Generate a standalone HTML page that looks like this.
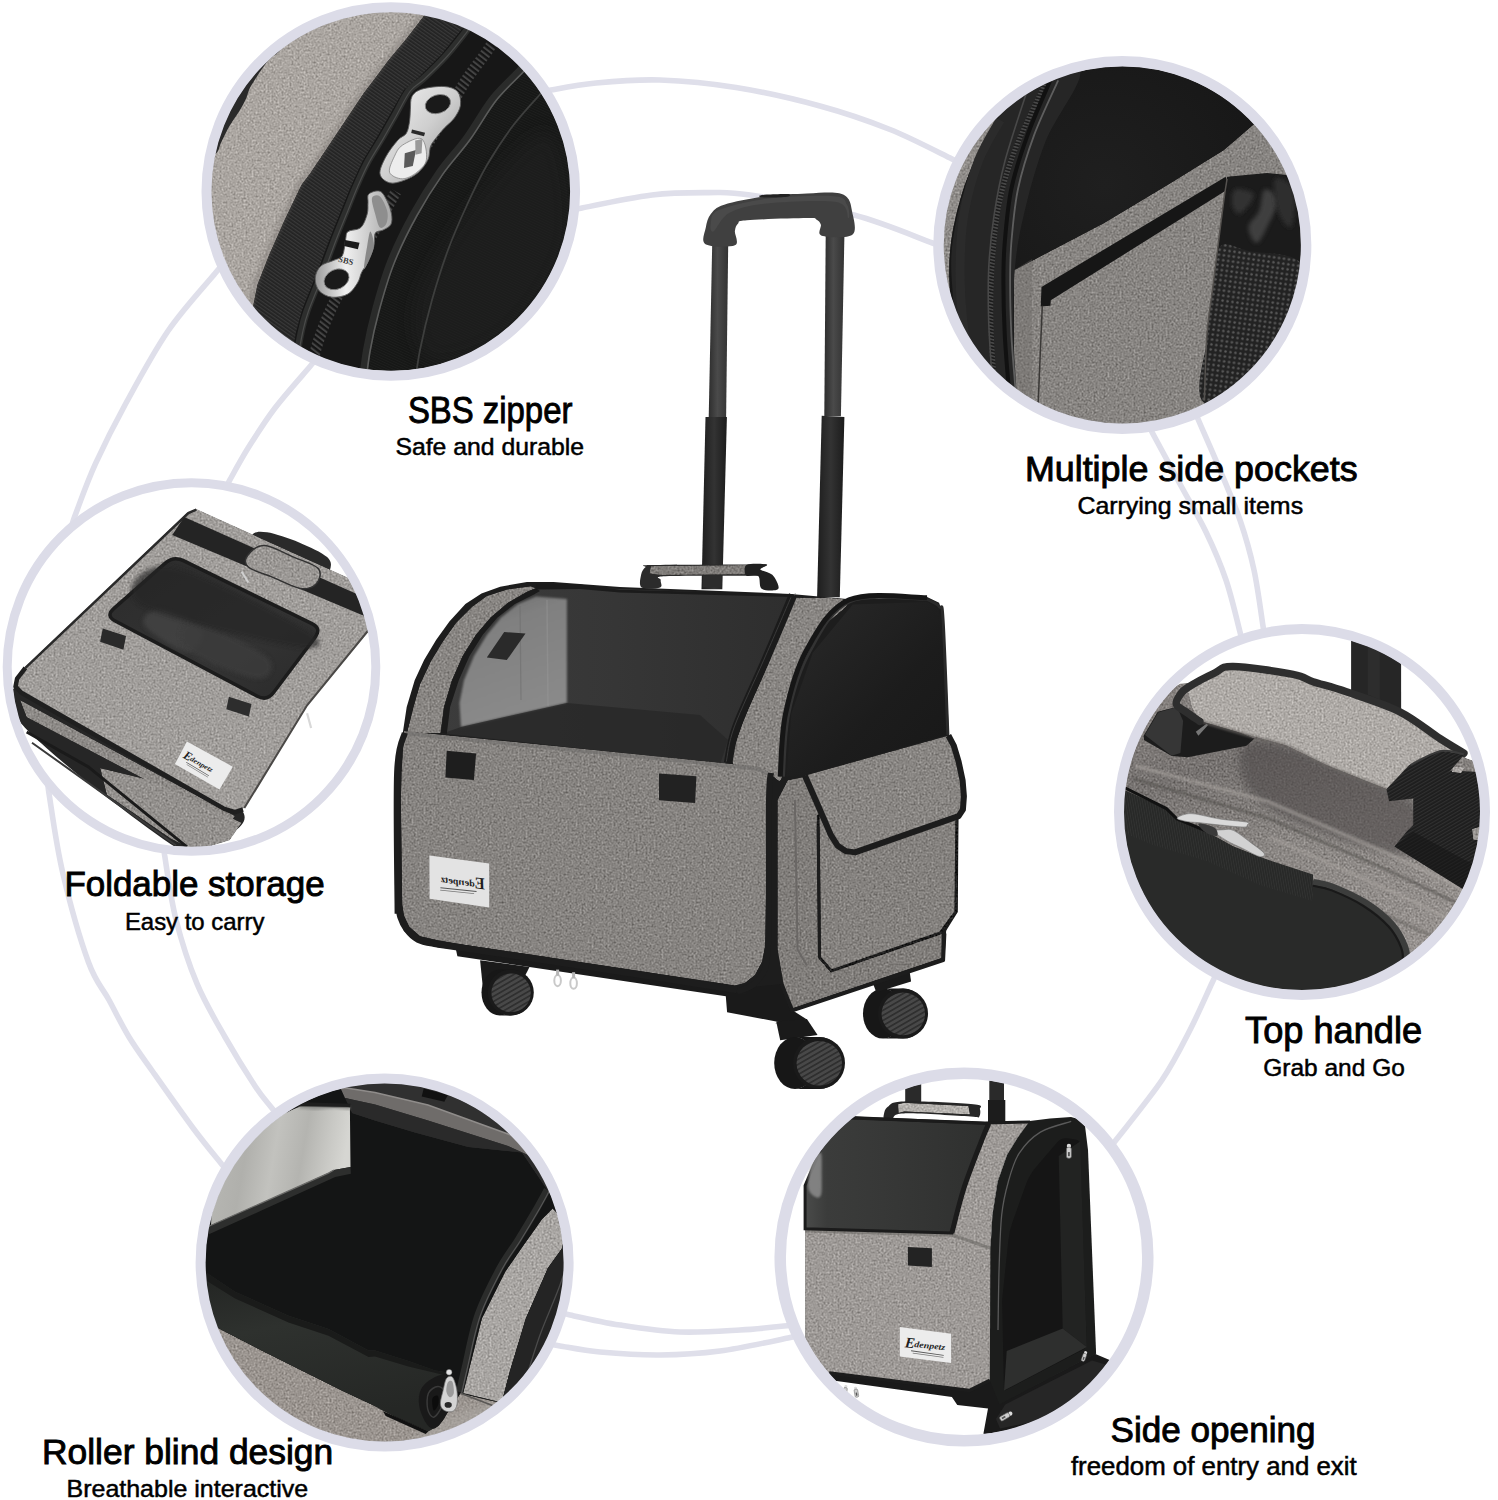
<!DOCTYPE html>
<html><head><meta charset="utf-8"><title>Pet carrier features</title>
<style>html,body{margin:0;padding:0;background:#fff}body{width:1498px;height:1500px;overflow:hidden;font-family:"Liberation Sans",sans-serif}svg{display:block}</style>
</head><body>
<svg xmlns="http://www.w3.org/2000/svg" width="1498" height="1500" viewBox="0 0 1498 1500">
<defs>
<filter id="fab" x="-5%" y="-5%" width="110%" height="110%" color-interpolation-filters="sRGB">
  <feTurbulence type="fractalNoise" baseFrequency="0.5" numOctaves="2" seed="7" result="n"/>
  <feColorMatrix in="n" type="matrix" values="0.6 0.6 0 0 -0.1  0.6 0.6 0 0 -0.1  0.6 0.6 0 0 -0.1  0 0 0 0 1" result="g"/>
  <feComposite in="SourceGraphic" in2="g" operator="arithmetic" k1="0" k2="1" k3="0.45" k4="-0.225" result="c"/>
  <feComposite in="c" in2="SourceGraphic" operator="in"/>
</filter>
<filter id="fabz" x="-5%" y="-5%" width="110%" height="110%" color-interpolation-filters="sRGB">
  <feTurbulence type="fractalNoise" baseFrequency="0.3" numOctaves="2" seed="11" result="n"/>
  <feColorMatrix in="n" type="matrix" values="0.6 0.6 0 0 -0.1  0.6 0.6 0 0 -0.1  0.6 0.6 0 0 -0.1  0 0 0 0 1" result="g"/>
  <feComposite in="SourceGraphic" in2="g" operator="arithmetic" k1="0" k2="1" k3="0.4" k4="-0.2" result="c"/>
  <feComposite in="c" in2="SourceGraphic" operator="in"/>
</filter>
<filter id="blur1"><feGaussianBlur stdDeviation="1"/></filter>
<filter id="blur2"><feGaussianBlur stdDeviation="2"/></filter>
<filter id="blur4"><feGaussianBlur stdDeviation="4"/></filter>
<filter id="blur8"><feGaussianBlur stdDeviation="8"/></filter>
<clipPath id="clip_c1"><circle cx="390.8" cy="191.5" r="179.8"/></clipPath>
<clipPath id="clip_c2"><circle cx="1122.3" cy="245" r="179"/></clipPath>
<clipPath id="clip_c3"><circle cx="191.5" cy="667" r="180.3"/></clipPath>
<clipPath id="clip_c4"><circle cx="384.6" cy="1262.5" r="179.5"/></clipPath>
<clipPath id="clip_c5"><circle cx="964" cy="1257" r="178.5"/></clipPath>
<clipPath id="clip_c6"><circle cx="1302" cy="812" r="178.5"/></clipPath>
<pattern id="wheelface" width="4.4" height="4.4" patternUnits="userSpaceOnUse" patternTransform="rotate(-30)">
  <rect width="4.4" height="4.4" fill="#484848"/><rect y="0" width="4.4" height="1.7" fill="#2e2e2e"/>
</pattern>
<linearGradient id="meshg" x1="0" y1="0" x2="1" y2="0">
  <stop offset="0" stop-color="#3c3c3c"/><stop offset="0.5" stop-color="#363636"/><stop offset="1" stop-color="#2e2e2e"/>
</linearGradient>
<linearGradient id="lightg" x1="0" y1="0" x2="0.3" y2="1">
  <stop offset="0" stop-color="#686868"/><stop offset="0.3" stop-color="#808080"/><stop offset="1" stop-color="#8a8a8a"/>
</linearGradient>
<linearGradient id="poleg" x1="0" y1="0" x2="1" y2="0">
  <stop offset="0" stop-color="#2e2e2e"/><stop offset="0.45" stop-color="#4a4a4a"/><stop offset="1" stop-color="#333"/>
</linearGradient>
<linearGradient id="poleg2" x1="0" y1="0" x2="1" y2="0">
  <stop offset="0" stop-color="#1e1e1e"/><stop offset="0.5" stop-color="#333"/><stop offset="1" stop-color="#1c1c1c"/>
</linearGradient>
<linearGradient id="sideblk" x1="0" y1="0" x2="1" y2="1">
  <stop offset="0" stop-color="#2a2a2a"/><stop offset="0.6" stop-color="#1c1c1c"/><stop offset="1" stop-color="#181818"/>
</linearGradient>

<linearGradient id="c1silver" x1="0" y1="0" x2="1" y2="1">
  <stop offset="0" stop-color="#f4f4f4"/><stop offset="0.5" stop-color="#cfcfcf"/><stop offset="1" stop-color="#8f8f8f"/>
</linearGradient>
<linearGradient id="c1silver2" x1="0" y1="0" x2="1" y2="0">
  <stop offset="0" stop-color="#9a9a9a"/><stop offset="0.4" stop-color="#f0f0f0"/><stop offset="1" stop-color="#a8a8a8"/>
</linearGradient>
<pattern id="c1rib" width="3" height="3" patternUnits="userSpaceOnUse" patternTransform="rotate(35)">
  <rect width="3" height="3" fill="#222"/><rect width="3" height="1.3" fill="#393939"/>
</pattern>
<pattern id="c1teeth" width="4.4" height="4.4" patternUnits="userSpaceOnUse" patternTransform="rotate(-52)">
  <rect width="4.4" height="4.4" fill="#141414"/><rect width="2" height="4.4" fill="#444"/>
</pattern>
<pattern id="c1mesh" width="2.4" height="2.4" patternUnits="userSpaceOnUse" patternTransform="rotate(25)">
  <rect width="2.4" height="2.4" fill="#161716"/><rect width="2.4" height="0.9" fill="#1e1f1e"/>
</pattern>

<pattern id="c2mesh" width="5" height="5" patternUnits="userSpaceOnUse" patternTransform="rotate(8)">
  <rect width="5" height="5" fill="#222"/><circle cx="2.5" cy="2.5" r="1.25" fill="#5c5c5c"/>
</pattern>
<pattern id="c2teeth" width="3.2" height="3.2" patternUnits="userSpaceOnUse" patternTransform="rotate(15)">
  <rect width="3.2" height="3.2" fill="#1c1c1c"/><rect width="3.2" height="1.5" fill="#4a4a4a"/>
</pattern>
<radialGradient id="c2int" cx="0.45" cy="0.35" r="0.6">
  <stop offset="0" stop-color="#1f1f1f"/><stop offset="1" stop-color="#141414"/>
</radialGradient>

<linearGradient id="c3win" x1="0" y1="0" x2="1" y2="1">
  <stop offset="0" stop-color="#2b2b2b"/><stop offset="0.6" stop-color="#343434"/><stop offset="1" stop-color="#2a2a2a"/>
</linearGradient>

<linearGradient id="c4light" x1="0" y1="0" x2="1" y2="0.15">
  <stop offset="0" stop-color="#b9b9b5"/><stop offset="0.3" stop-color="#b0b0ac"/><stop offset="0.5" stop-color="#c2c2be"/><stop offset="0.7" stop-color="#b4b4b0"/><stop offset="0.88" stop-color="#c9c9c5"/><stop offset="1" stop-color="#d6d6d2"/>
</linearGradient>
<linearGradient id="c4roll" x1="0" y1="0" x2="0.3" y2="1">
  <stop offset="0" stop-color="#222422"/><stop offset="0.4" stop-color="#2e312e"/><stop offset="1" stop-color="#252725"/>
</linearGradient>

<linearGradient id="c5mesh" x1="0" y1="0" x2="1" y2="0">
  <stop offset="0" stop-color="#4a4b4a"/><stop offset="0.12" stop-color="#3b3c3b"/><stop offset="0.5" stop-color="#363736"/><stop offset="1" stop-color="#2f302f"/>
</linearGradient>

<pattern id="c6web" width="3" height="3" patternUnits="userSpaceOnUse" patternTransform="rotate(-30)">
  <rect width="3" height="3" fill="#1d1d1d"/><rect width="3" height="1.2" fill="#303030"/>
</pattern>
<pattern id="c6nyl" width="2.4" height="2.4" patternUnits="userSpaceOnUse" patternTransform="rotate(80)">
  <rect width="2.4" height="2.4" fill="#272827"/><rect width="2.4" height="0.9" fill="#323332"/>
</pattern>
<linearGradient id="c6top" x1="0" y1="0" x2="0.35" y2="1">
  <stop offset="0" stop-color="#8d8885"/><stop offset="0.3" stop-color="#767270"/><stop offset="0.55" stop-color="#8a8683"/><stop offset="1" stop-color="#9a9592"/>
</linearGradient>
</defs>
<rect width="1498" height="1500" fill="#fff"/>
<g id="arcs"><path d="M540 93 C541.8 92.5 541.7 91.7 551 90 C560.3 88.3 577.8 84.7 596 83 C614.2 81.3 636.7 79.2 660 80 C683.3 80.8 709.3 83.2 736 87.5 C762.7 91.8 794.3 99 820 106 C845.7 113 868 120.7 890 129.5 C912 138.3 939.5 152.9 952 159 C964.5 165.1 962.8 164.8 965 166" fill="none" stroke="#dfdfea" stroke-width="5.6" stroke-linecap="round"/>
<path d="M570 212 C572 211.3 568.3 210.8 582 208 C595.7 205.2 631 197.6 652 195 C673 192.4 691.7 192.6 708 192.6 C724.3 192.6 725.7 191.3 750 195 C774.3 198.7 823.6 207 854 215 C884.4 223 917.3 237.5 932.5 243 C947.7 248.5 942.9 247.2 945 248" fill="none" stroke="#dfdfea" stroke-width="5.6" stroke-linecap="round"/>
<path d="M222 265 C220.8 266.4 224 262.5 215 273.5 C206 284.5 182.9 309.2 168 331 C153.1 352.8 137.6 381.9 125.5 404 C113.4 426.1 103.8 445.5 95.5 463.7 C87.2 481.9 79.9 502.8 76 513 C72.1 523.2 72.7 523 72 525" fill="none" stroke="#dfdfea" stroke-width="5.6" stroke-linecap="round"/>
<path d="M317 358 C315.8 359.4 317 358.2 310 366.5 C303 374.8 285.2 394.6 275 408 C264.8 421.4 256.5 434.7 249 446.6 C241.5 458.6 233.8 472.8 230 479.7 C226.2 486.6 226.7 486.6 226 488" fill="none" stroke="#dfdfea" stroke-width="5.6" stroke-linecap="round"/>
<path d="M48 780 C48.2 782.2 46.5 778.1 49 793.5 C51.5 808.9 56.1 844.5 62.7 872.6 C69.3 900.7 80.7 940.8 88.4 962 C96.1 983.2 102.2 987.5 109 1000 C115.8 1012.5 121.7 1025 129 1037 C136.3 1049 142.3 1056.8 153 1072 C163.7 1087.2 181.6 1112.7 193 1128 C204.4 1143.3 215.3 1156.3 221.5 1164 C227.7 1171.7 228.6 1172.3 230 1174" fill="none" stroke="#dfdfea" stroke-width="5.6" stroke-linecap="round"/>
<path d="M164 845 C164.2 847.1 163 845.2 165 857.6 C167 870 170.7 898.6 176 919.6 C181.3 940.6 188.8 964.1 197 983.7 C205.2 1003.3 215.3 1020 225 1037 C234.7 1054 247.3 1074.3 255 1086 C262.7 1097.7 266.8 1101.7 271 1107 C275.2 1112.3 278.5 1116.2 280 1118" fill="none" stroke="#dfdfea" stroke-width="5.6" stroke-linecap="round"/>
<path d="M560 1312 C561.7 1312.5 560 1312.8 570 1315 C580 1317.2 601.7 1322.2 620 1325 C638.3 1327.8 660 1331.2 680 1332 C700 1332.8 722.7 1331 740 1330 C757.3 1329 774.8 1327 784 1326 C793.2 1325 793.2 1324.3 795 1324" fill="none" stroke="#dfdfea" stroke-width="5.6" stroke-linecap="round"/>
<path d="M550 1344 C551.7 1344.3 551.7 1344.7 560 1346 C568.3 1347.3 583.3 1350.5 600 1352 C616.7 1353.5 640 1355.2 660 1355 C680 1354.8 698.7 1353.8 720 1351 C741.3 1348.2 774.7 1340.7 788 1338 C801.3 1335.3 798 1335.5 800 1335" fill="none" stroke="#dfdfea" stroke-width="5.6" stroke-linecap="round"/>
<path d="M1218 970 C1217 972.2 1216.7 973 1212 983 C1207.3 993 1198.3 1013.8 1190 1030 C1181.7 1046.2 1174.3 1061.7 1162 1080 C1149.7 1098.3 1125 1128.3 1116 1140 C1107 1151.7 1109.3 1148.3 1108 1150" fill="none" stroke="#dfdfea" stroke-width="5.6" stroke-linecap="round"/>
<path d="M1148 424 C1148.8 425.7 1147.7 424 1153 434 C1158.3 444 1171.2 467.7 1180 484 C1188.8 500.3 1198.3 516 1206 532 C1213.7 548 1220.3 563.3 1226 580 C1231.7 596.7 1237.3 621.7 1240 632 C1242.7 642.3 1241.7 640.3 1242 642" fill="none" stroke="#dfdfea" stroke-width="5.6" stroke-linecap="round"/>
<path d="M1194 409 C1194.7 410.7 1193.7 408.8 1198 419 C1202.3 429.2 1213 453.2 1220 470 C1227 486.8 1234.3 503.3 1240 520 C1245.7 536.7 1250.2 552.3 1254 570 C1257.8 587.7 1261.3 615 1263 626 C1264.7 637 1263.8 634.3 1264 636" fill="none" stroke="#dfdfea" stroke-width="5.6" stroke-linecap="round"/></g>
<g id="product"><path d="M712.2 244.2 L728.2 244.2 L726.1 418.3 L708.7 418.3Z" fill="url(#poleg)"/>
<path d="M825.7 235.4 L844.4 235.4 L840.9 416.2 L824.3 416.2Z" fill="url(#poleg)"/>
<path d="M705.5 417 L726.9 417 L722.3 589.2 L701.5 589.2Z" fill="url(#poleg2)"/>
<path d="M821.7 415.7 L844.4 417 L839.8 597.2 L817.1 597.2Z" fill="url(#poleg2)"/>
<path d="M705.5 244.2 C700.6 241.3 704.9 232.4 705.8 227.4 C706.7 222.4 707.8 217.8 710.8 214.1 C713.9 210.3 714.8 207.7 724.2 204.7 C733.5 201.7 753.1 198 766.9 196.2 C780.7 194.3 795.6 194.1 807 193.5 C818.3 192.9 828.3 192.1 835 192.7 C841.7 193.3 844.2 194.3 847 197.2 C849.8 200.1 850.9 203.8 851.8 210.1 C852.8 216.3 857.7 230.3 852.6 234.6 C847.6 238.9 827 237.3 821.7 235.7 C816.4 234 821.7 227.5 820.9 224.7 C820 222 818.6 220.5 816.3 219.4 C814 218.3 818.5 217.9 807 218.1 C795.4 218.2 758.4 219.3 746.9 220.2 C735.4 221.1 740.1 221.6 738.1 223.4 C736.1 225.2 735.4 227.2 734.9 230.9 C734.3 234.5 739.8 243.1 734.9 245.3 C730 247.5 710.4 247.2 705.5 244.2Z" fill="#404040"/>
<path d="M718.9 210.1 C728.2 206 747.8 201.2 766.9 198.8 C786.1 196.5 820.3 195.2 833.7 196.2 C847 197.1 844.6 201.1 847 204.7 C849.5 208.4 850.1 218.5 848.4 218.1 C846.6 217.6 849.9 204.5 836.3 202 C822.8 199.6 784.7 201.6 766.9 203.4 C749.1 205.2 738.4 208.1 729.5 212.7 C720.6 217.4 716.6 229.6 713.5 231.4 C710.4 233.2 710 227 710.8 223.4 C711.7 219.8 709.5 214.1 718.9 210.1Z" fill="#4a4a4a"/>
<path d="M758.9 196.2 C758.9 195.7 762 194.9 766.9 194.6 C771.8 194.2 784.9 193.7 788.3 194 C791.6 194.4 790.5 196.1 786.9 196.7 C783.4 197.3 771.6 197.6 766.9 197.5 C762.2 197.4 758.9 196.7 758.9 196.2Z" fill="#222"/>
<path d="M883 988.6 a18.8 25 0 0 1 0 50 l20 0 a23.5 25 0 0 0 0 -50 z" fill="#161616"/>
<ellipse cx="883" cy="1013.6" rx="20" ry="25" fill="#171717"/>
<ellipse cx="903" cy="1013.6" rx="25" ry="25" fill="#1a1a1a"/>
<ellipse cx="903.3" cy="1013.9" rx="21.7" ry="21.3" fill="url(#wheelface)"/>
<path d="M868.3 970.9 L908.4 962.9 L911.1 981.6 L876.3 992.3Z" fill="#1a1a1a"/>
<path d="M454.8 944.2 L457.4 956.2 L529.5 966.9 L725.8 996.3 L727.1 1012.3 L780 1022.2 L774.9 1023.8 L806.9 1019.5 L793.6 1010.9 L944.4 961 L946.3 928.2 L935.1 925.5 L780.2 981.6 L734.8 986.9Z" fill="#1a1a1a"/>
<path d="M396.8 905 L395.8 772.3 L399.5 745 L402.7 733.6 L406.7 706.9 L414.7 680.2 L424.1 660.1 L436.1 640.1 L449.4 621.4 L465.4 604.1 L481.5 593.4 L500.2 586.7 L526.9 582 L553.6 582 L580 584 L620 587 L790.9 593.9 L849.6 599.3 L927.1 596.9 L939.1 602.8 L943.6 617.4 L949 734.9 L957.5 753.6 L964.5 793.7 L960.5 815.6 L958.6 800 L957.8 912.1 L944.4 933.5 L944.4 960.2 L790.9 1012.3 L780.2 984.2 L753.5 986.9 L734.8 993.6 L748.5 993.6 L456 949.5 L436 947 L417 942 L404 931 L398.5 918Z" fill="#1d1d1d"/>
<g filter="url(#fab)"><path d="M407 733 L413.4 706.9 L420 684.2 L430.7 661.5 L442.8 641.4 L456.1 622.8 L472.1 606.7 L486.8 596 L506.8 589.4 L530.9 586.2 L536 588.2 L526.9 592 L508.2 602.7 L490.8 617.4 L476.1 634.8 L462.8 656.1 L452.1 680.2 L444.1 706.9 L440.7 733Z" fill="#888582"/>
<path d="M798.4 597.7 C807.3 598.3 843.4 596.3 847.5 601.4 C851.6 606.5 830.1 617.9 822.9 628.1 C815.7 638.4 809.8 648.6 804.2 662.8 C798.7 677.1 793.2 694.7 789.6 713.6 C785.9 732.5 785.7 766.1 782.3 776.3 C779 786.6 777.7 776.9 769.5 775 C761.4 773.1 738.3 772.6 733.5 764.8 C728.7 757 734.7 745.7 740.7 728.3 C746.7 710.8 760.6 681.9 769.5 660.2 C778.4 638.4 789.3 608.1 794.1 597.7 C798.9 587.3 789.5 597.1 798.4 597.7Z" fill="#888582"/>
<path d="M787.7 780.3 L806.9 776.3 L947.9 737.6 L956.4 753.6 L956.4 800 L955.9 910.8 L941.8 932.2 L941.8 958.1 L792.2 1008.8 L783.4 984.2 L777.5 949.5 L777.5 800Z" fill="#807d7a"/></g>
<path d="M440.7 733 L720.4 763.5 L727.3 762.2 L735.4 726.9 L764.7 660.2 L791.4 595.5 L580 587.5 L540 588 L536 588.2 L526.9 592 L508.2 602.7 L490.8 617.4 L476.1 634.8 L462.8 656.1 L452.1 680.2 L444.1 706.9Z" fill="url(#meshg)"/>
<path d="M461 727 L459.5 703 L464 680.2 L474 656.1 L487 634.8 L501 617.4 L518 604.1 L536 596.5 L566.9 599 L566.9 702.9Z" fill="url(#lightg)" filter="url(#blur1)"/>
<path d="M520 606 L521 700" fill="none" stroke="#6a6a6a" stroke-width="1.2" opacity="0.5"/>
<path d="M547 600 L548 706" fill="none" stroke="#9a9a9a" stroke-width="1.5" opacity="0.4"/>
<path d="M461 727 L566.9 702.9 L700 715 L728 740 L720.4 763.5 L441 734Z" fill="#272727" opacity="0.75"/>
<path d="M504.2 632.1 L525.5 633.4 L506.8 660.1 L486.8 657.5Z" fill="#2a2a2a"/>
<path d="M440.7 733 L444.1 706.9 L452.1 680.2 L462.8 656.1 L476.1 634.8 L490.8 617.4 L508.2 602.7 L526.9 592 L536 588.2 L540 591 L533.5 594.7 L514.8 604.1 L497.5 617.4 L482.8 634.8 L469.5 656.1 L458.8 680.2 L450.1 706.9 L446.8 734Z" fill="#1b1b1b"/>
<path d="M793 595 C788.4 605.9 775 638.2 765.5 660.2 C756.1 682.1 742.7 709.8 736.4 726.9 C730.2 744 729.5 757 728.1 763" fill="none" stroke="#1b1b1b" stroke-width="8.5"/>
<path d="M790.9 597.4 C786.4 607.9 773.1 638.6 763.7 660.2 C754.2 681.7 740.5 710 734.3 726.9 C728.1 743.8 727.6 755.8 726.3 761.6" fill="none" stroke="#3a3a3a" stroke-width="1"/>
<path d="M536 584.5 L580 584.5 L620 589.7 L793.6 594.2 L793.6 597.1 L620 592.6 L580 589 L536 589.5Z" fill="#1b1b1b"/>
<path d="M852.8 604.6 L927.1 601.9 L938.3 608.9 L941.5 620.1 L946.3 734.9 L804.8 775 L786.6 776.6 L791.4 713.6 L812.8 652.7Z" fill="url(#sideblk)"/>
<path d="M927.1 599.3 C914.2 599.7 869.2 593.1 849.6 601.9 C830.1 610.8 819.7 633.5 809.6 652.1 C799.4 670.8 793.1 692.8 788.8 713.6 C784.4 734.3 784.3 766.1 783.4 776.6" fill="none" stroke="#333" stroke-width="3"/>
<path d="M927.1 597.7 C914.1 598 869.1 591.2 849.1 599.8 C829.1 608.4 817.5 630.5 806.9 649.5 C796.3 668.4 790 692.4 785.6 713.6 C781.1 734.7 781.1 766.1 780.2 776.6" fill="none" stroke="#161616" stroke-width="5"/>
<path d="M927.1 599.3 C929.1 600.5 936.7 603.3 939.4 606.8 C942 610.2 941.7 598.7 943.1 620.1 C944.5 641.5 947.1 715.8 947.9 734.9" fill="none" stroke="#2a2a2a" stroke-width="3"/>
<g filter="url(#fab)"><path d="M404 731 L442 734.7 L720.4 762.8 L758 766.8 L769 772 L767 800 L765.5 945 L762 962 L755 975 L745 983 L735 985.5 L456 943.5 L437.4 940.2 L420 936.2 L409.3 926.8 L404 916.1 L402.2 905 L400.8 800 L401.5 772Z" fill="#868380"/></g>
<path d="M404 731.5 L442 735.2 L720.4 763.3 L758 767.3 L769 772.5 L769 776 L758 770.8 L720.4 766.8 L442 738.7 L404 735Z" fill="#6e6b69" opacity="0.55"/>
<path d="M771 773 C770.7 777.5 769.5 771.3 769 800 C768.5 828.7 769.8 915 768 945 C766.2 975 763.2 972.2 758 980 C752.8 987.8 740.5 990 737 992" fill="none" stroke="#1d1d1d" stroke-width="6"/>
<path d="M737 990 C714.2 986.4 646.8 975.7 600 968.5 C553.2 961.3 483.3 951.1 456 947 C428.7 942.9 442.3 945.2 436 944 C429.7 942.8 422.9 942 418 939.5 C413.1 937 409.4 932.8 406.5 929 C403.6 925.2 401.8 921 400.5 917 C399.2 913 399.1 907 398.8 905" fill="none" stroke="#1d1d1d" stroke-width="6.5" stroke-linejoin="round"/>
<path d="M397.6 913.8 C397.5 890.2 395.9 802.5 397.1 772.3 C398.3 742.1 403.5 739.4 404.8 732.8" fill="none" stroke="#1d1d1d" stroke-width="6"/>
<path d="M446.7 750.7 L476.1 753.4 L473.9 780.1 L445.4 777.4Z" fill="#1e1e1e"/>
<path d="M659 773.6 L696.4 776.3 L695.1 803 L659 800.3Z" fill="#222"/>
<path d="M429.4 855.4 L489.2 863.4 L489.2 907.4 L429.6 898.8Z" fill="#e3e3e3"/>
<g transform="translate(484.5 889.5) rotate(8) scale(-1.1 1.1)" font-family="'Liberation Serif', serif" font-style="italic" font-weight="bold" fill="#1e1e1e"><text x="0" y="0" font-size="15">E</text><text x="9.5" y="-1.2" font-size="8.6" textLength="31" lengthAdjust="spacingAndGlyphs">denpetz</text><rect x="7" y="2.2" width="33" height="0.9" fill="#555" transform="rotate(2)"/><rect x="9" y="4.4" width="31" height="0.7" fill="#777" transform="rotate(2)"/></g>
<g filter="url(#fab)"><path d="M818.1 816 L819.5 957.5 L831.5 970.9 L940.4 933 L955.9 911.6 L957 800Z" fill="#84817e" stroke="#1c1c1c" stroke-width="3" stroke-linejoin="round"/>
<path d="M804.8 775.5 L948.4 735.5 L953.8 745.6 L958.6 761.6 L962.6 780.3 L963.9 796.3 L962.9 809.7 L958.6 816.1 L855 852.4 L845.6 851.1 L837.6 845.7 L830.9 835.1 L818.7 807Z" fill="#888582"/></g>
<path d="M948.4 735.5 L953.8 745.6 L958.6 761.6 L962.6 780.3 L963.9 796.3 L962.9 809.7 L958.6 816.1 L855 852.4 L845.6 851.1 L837.6 845.7 L830.9 835.1 L818.7 807 L804.8 775.5" fill="none" stroke="#1c1c1c" stroke-width="6" stroke-linejoin="round"/>
<path d="M818.1 826.7 L819.5 957.5" fill="none" stroke="#1c1c1c" stroke-width="3"/>
<path d="M794.9 800 L797.6 949.5 L806.9 965.6" fill="none" stroke="#6a6765" stroke-width="2"/>
<path d="M781.5 984.2 L792.2 1010.4 L943.1 960.2 L944.4 933.5" fill="none" stroke="#1c1c1c" stroke-width="4" stroke-linejoin="round"/>
<path d="M641.7 587.4 C638.5 585.3 640.5 578 641.1 574.7 C641.8 571.3 643.6 568.9 645.4 567.3 C647.2 565.7 635.2 565.5 652.1 565.1 C669 564.6 727.8 564.6 746.9 564.5 C766 564.5 764.8 564 766.9 564.8 C769 565.6 760.7 567.7 759.6 569.3 C758.5 571 762.1 573.6 760.2 574.7 C758.3 575.8 764 575.5 748.2 575.8 C732.4 576 680 575.6 665.4 576.3 C650.9 577 661.7 578.2 660.8 580 C659.9 581.9 663.3 586.1 660.1 587.4 C656.9 588.6 644.8 589.5 641.7 587.4Z" fill="#2b2b2b"/>
<g filter="url(#fab)"><path d="M650.8 565.9 L747.6 565.1 L745.6 574.4 L660.1 575 L649.4 573.4Z" fill="#7f7c79"/></g>
<path d="M746.9 564.8 C750.3 563 764.7 563.8 766.9 564.5 C769.1 565.3 759.4 567.7 760.2 569.3 C761.1 571 769.3 572 772.3 574.7 C775.3 577.4 777.6 582.8 778.3 585.4 C778.9 587.9 779 589.5 776.3 590 C773.5 590.6 764.6 591 761.6 588.7 C758.6 586.4 760.8 578.2 758.2 576 C755.7 573.8 748.1 577.2 746.2 575.4 C744.3 573.5 743.4 566.6 746.9 564.8Z" fill="#202020"/>
<path d="M702.8 575.8 L721.8 575.8 L721.5 587.4 L702.6 587.4Z" fill="#2c2c2c"/>
<path d="M480.1 960.2 L529.5 966.9 L524.2 977.6 L482.8 986.9Z" fill="#1a1a1a"/>
<path d="M499.8 969.5 a17.2 23 0 0 1 0 46 l11 0 a21.5 23 0 0 0 0 -46 z" fill="#161616"/>
<ellipse cx="499.8" cy="992.5" rx="18.3" ry="23" fill="#171717"/>
<ellipse cx="510.8" cy="992.5" rx="23" ry="23" fill="#1a1a1a"/>
<ellipse cx="511.1" cy="992.8" rx="19.7" ry="19.3" fill="url(#wheelface)"/>
<path d="M776.2 1021.6 L806.9 1019 L817.6 1035 L780.2 1040.3Z" fill="#1a1a1a"/>
<path d="M795 1037 a19.6 26 0 0 1 0 52 l24 0 a24.5 26 0 0 0 0 -52 z" fill="#161616"/>
<ellipse cx="795" cy="1063" rx="20.8" ry="26" fill="#171717"/>
<ellipse cx="819" cy="1063" rx="26" ry="26" fill="#1a1a1a"/>
<ellipse cx="819.3" cy="1063.3" rx="22.7" ry="22.3" fill="url(#wheelface)"/>
<ellipse cx="557.6" cy="980.6" rx="3.3" ry="5.6" fill="none" stroke="#c9c9c9" stroke-width="2"/>
<rect x="556.1" y="969.6" width="3" height="6" fill="#b5b5b5"/>
<ellipse cx="573.6" cy="983.2" rx="3.3" ry="5.6" fill="none" stroke="#c9c9c9" stroke-width="2"/>
<rect x="572.1" y="972.2" width="3" height="6" fill="#b5b5b5"/></g>
<g id="backs"><circle cx="390.8" cy="191.5" r="188.3" fill="#fff"/>
<circle cx="1122.3" cy="245" r="188" fill="#fff"/>
<circle cx="191.5" cy="667" r="187.8" fill="#fff"/>
<circle cx="384.6" cy="1262.5" r="188" fill="#fff"/>
<circle cx="964" cy="1257" r="188.5" fill="#fff"/>
<circle cx="1302" cy="812" r="187" fill="#fff"/></g>
<g id="c1" clip-path="url(#clip_c1)"><rect x="195" y="-5" width="400" height="400" fill="url(#c1mesh)"/>
<path d="M483.7 186.9 C506 160.2 536.2 124.6 550.5 133.5 C564.7 142.4 575.8 206.9 569.2 240.3 C562.5 273.7 533.6 313.8 510.4 333.8 C487.3 353.8 445.9 367.2 430.3 360.5 C414.7 353.8 408.1 322.7 417 293.7 C425.9 264.8 461.5 213.6 483.7 186.9Z" fill="#222322" opacity="0.5" filter="url(#blur8)"/>
<path d="M482 3 L463 27.7 L441 55 L418 78 L403.8 90 L390.2 114 L376.5 138.1 L362.1 162.1 L350.9 186.2 L341.3 210 L330 238 L318 270 L302 310 L296 332 L290 365 L366 388 L371 350 L380 309.7 L395 262 L418 214 L444 172.4 L470.8 138.5 L497.5 98.5 L525.5 69.1 L539 50Z" fill="#171717"/>
<path d="M436 0 L424.1 15.7 L406.7 38.4 L388 61.1 L380 71.8 L363.6 93.5 L336.9 133.5 L310.2 173.6 L301.5 185 L285.4 218.4 L269.4 254.4 L257.4 285.1 L253.4 305.2 L250 335 L290 365 L296 332 L302 310 L318 270 L330 238 L341.3 210 L350.9 186.2 L362.1 162.1 L376.5 138.1 L390.2 114 L403.8 90 L418 78 L441 55 L463 27.7 L482 3Z" fill="url(#c1rib)"/>
<path d="M487 4 C483.8 8.1 474.8 20 468 28.7 C461.2 37.4 453.5 47.6 446 56 C438.5 64.4 429.2 73.2 423 79 C416.8 84.8 413.4 85 408.8 91 C404.2 97 399.8 107 395.2 115 C390.6 123 386.2 131.1 381.5 139.1 C376.8 147.1 371.4 155.1 367.1 163.1 C362.8 171.1 359.4 179.2 355.9 187.2 C352.4 195.2 349.8 202.4 346.3 211 C342.8 219.6 338.9 229 335 239 C331.1 249 327.7 259 323 271 C318.3 283 310.7 300.7 307 311 C303.3 321.3 303 323.8 301 333 C299 342.2 296 360.5 295 366" fill="none" stroke="#2d2e2d" stroke-width="7"/>
<path d="M488.5 4 C485.3 8.1 476.3 20 469.5 28.7 C462.7 37.4 455 47.6 447.5 56 C440 64.4 430.7 73.2 424.5 79 C418.3 84.8 414.9 85 410.3 91 C405.7 97 401.2 107 396.7 115 C392.1 123 387.7 131.1 383 139.1 C378.3 147.1 372.9 155.1 368.6 163.1 C364.3 171.1 360.9 179.2 357.4 187.2 C353.9 195.2 351.3 202.4 347.8 211 C344.3 219.6 340.4 229 336.5 239 C332.6 249 329.2 259 324.5 271 C319.8 283 312.2 300.7 308.5 311 C304.8 321.3 304.5 323.8 302.5 333 C300.5 342.2 297.5 360.5 296.5 366" fill="none" stroke="#4a4b4a" stroke-width="1.2"/>
<path d="M508 18 C504.7 23.3 494.9 39.7 488 50 C481.1 60.3 473.7 68.3 466.4 79.6 C459.1 90.9 451.5 105.7 444 118 C436.5 130.3 425.3 147.3 421.6 153.2" fill="none" stroke="url(#c1teeth)" stroke-width="11"/>
<path d="M396 191.6 C391.7 199.3 378.4 223.6 370.4 238 C362.4 252.4 354.4 266.5 348 278 C341.6 289.5 337 296.1 332 306.8 C327 317.5 321.7 330.6 318 342 C314.3 353.4 311.3 369.5 310 375" fill="none" stroke="url(#c1teeth)" stroke-width="11"/>
<path d="M535 50 C532.8 53.2 528.4 61 521.5 69.1 C514.6 77.2 502.6 86.9 493.5 98.5 C484.4 110.1 475.7 126.2 466.8 138.5 C457.9 150.8 448.8 159.8 440 172.4 C431.2 185 422.2 199.1 414 214 C405.8 228.9 397.3 246.1 391 262 C384.7 277.9 380 295 376 309.7 C372 324.4 369.3 336.9 367 350 C364.7 363.1 362.8 381.7 362 388" fill="none" stroke="#2a2b2a" stroke-width="8"/>
<path d="M538 51.5 C535.8 54.7 531.4 62.5 524.5 70.6 C517.6 78.7 505.6 88.4 496.5 100 C487.4 111.6 478.7 127.7 469.8 140 C460.9 152.3 451.8 161.3 443 173.9 C434.2 186.5 425.2 200.6 417 215.5 C408.8 230.4 400.3 247.6 394 263.5 C387.7 279.4 383 296.5 379 311.2 C375 325.9 372.3 338.4 370 351.5 C367.7 364.6 365.8 383.2 365 389.5" fill="none" stroke="#5a5b5a" stroke-width="1.6"/>
<path d="M560 72 C557.3 75 551.8 81.2 544 90 C536.2 98.8 523 112.5 513.5 125 C504 137.5 494.8 151.7 487 165 C479.2 178.3 473.5 190.8 467 205 C460.5 219.2 453.8 234.2 448 250 C442.2 265.8 436.7 283.3 432 300 C427.3 316.7 423 335 420 350 C417 365 415 383.3 414 390" fill="none" stroke="#3d3e3d" stroke-width="1.8"/>
<g filter="url(#fab)"><path d="M436 0 L424.1 15.7 L406.7 38.4 L388 61.1 L380 71.8 L363.6 93.5 L336.9 133.5 L310.2 173.6 L301.5 185 L285.4 218.4 L269.4 254.4 L257.4 285.1 L253.4 305.2 L250 335 L180 335 L180 -10 L436 -10Z" fill="#aaa5a0"/></g>
<path d="M434 0 C432 2.6 427 9.3 422.1 15.7 C417.2 22.1 410.7 30.8 404.7 38.4 C398.7 46 390.4 55.5 386 61.1 C381.6 66.7 382.1 66.4 378 71.8 C373.9 77.2 368.8 83.2 361.6 93.5 C354.4 103.8 343.8 120.2 334.9 133.5 C326 146.8 314.1 165 308.2 173.6 C302.3 182.2 303.6 177.5 299.5 185 C295.4 192.5 288.8 206.8 283.4 218.4 C278 230 272.1 243.3 267.4 254.4 C262.7 265.5 258.1 276.6 255.4 285.1 C252.7 293.6 252.6 296.9 251.4 305.2 C250.2 313.5 248.6 330 248 335" fill="none" stroke="#6f6b67" stroke-width="4" opacity="0.45" filter="url(#blur2)"/>
<path d="M280 47.5 C284.5 50 271.8 55.6 267 62 C262.2 68.4 254.4 80 251 86 C247.6 92 248.1 94 246.3 98 C244.5 102 242.8 105.3 240 110 C237.2 114.7 232.6 120.7 229.5 126 C226.4 131.3 223.8 137.3 221.4 142 C219 146.7 219.2 152 215 154 C210.8 156 198.5 163 196 154 C193.5 145 192.7 117.8 200 100 C207.3 82.2 226.7 55.8 240 47 C253.3 38.2 275.5 45 280 47.5Z" fill="#2a2a2a"/>
<path d="M412 96.4 C413.9 93.1 416.3 90.9 421.6 89.2 C426.9 87.5 438 86.1 444 86.5 C450 86.9 454.9 88.5 457.6 91.6 C460.3 94.7 461 100.8 460.5 105.2 C459.9 109.6 457 114.3 454.4 118 C451.8 121.7 447.9 124.3 444.8 127.6 C441.7 130.9 438.4 134.8 436 138 C433.6 141.2 431.7 143.2 430.4 146.8 C429.1 150.4 430 155.3 428 159.6 C426 163.9 422.4 168.9 418.4 172.4 C414.4 175.9 408.8 178.7 404 180.4 C399.2 182.1 393.6 183.9 389.6 182.8 C385.6 181.7 380.7 178.3 380 174 C379.3 169.7 382.7 162.8 385.6 157.2 C388.5 151.6 394.1 144.4 397.6 140.4 C401.1 136.4 404.4 136.4 406.4 133.2 C408.4 130 408.9 125.2 409.6 121.2 C410.3 117.2 410 113.3 410.4 109.2 C410.8 105.1 410.1 99.7 412 96.4Z" fill="url(#c1silver)" stroke="#5a5a5a" stroke-width="0.9"/>
<ellipse cx="437.9" cy="104.1" rx="13" ry="9.2" transform="rotate(-18 437.9 104.1)" fill="#1a1a1a" stroke="#8a8a8a" stroke-width="0.8"/>
<path d="M412 129.5 L425.1 132.7 L424 136.2 L411.2 133Z" fill="#2a2a2a"/>
<path d="M402.4 145.2 C406.9 142.3 417.6 136.4 421.6 138.8 C425.6 141.2 427.2 154 426.4 159.6 C425.6 165.2 420.8 169.2 416.8 172.4 C412.8 175.6 406.9 178.8 402.4 178.8 C397.9 178.8 390.9 176.1 389.6 172.4 C388.3 168.7 392.3 160.9 394.4 156.4 C396.5 151.9 397.9 148.1 402.4 145.2Z" fill="#ededed" stroke="#7a7a7a" stroke-width="0.7"/>
<path d="M404.8 153.2 L416 150 L412.8 166 L404 167.9Z" fill="#5a5a5a"/>
<path d="M415.2 140.4 L422.4 139.1 L421.6 153.2 L415.5 154.8Z" fill="#9a9a9a"/>
<path d="M368.8 194 C370.8 192.1 376.9 190.1 380 191.3 C383.1 192.5 385.3 197.4 387.2 201.2 C389.1 205 390.9 210.1 391.5 214 C392.1 217.9 392.3 221.7 390.9 224.4 C389.5 227.1 385.8 228.5 383.2 230 C380.6 231.5 376.7 230.5 375.2 233.2 C373.7 235.9 375.1 241.2 373.9 246 C372.7 250.8 370.1 257.6 368 262 C365.9 266.4 363.3 268.9 361.6 272.4 C359.9 275.9 359.9 279.2 357.6 282.8 C355.3 286.4 352.3 291.6 348 294 C343.7 296.4 336.8 297.7 332 297.2 C327.2 296.7 322 294 319.2 290.8 C316.4 287.6 314.9 282.1 315.2 278 C315.5 273.9 317.7 268.9 320.8 266 C323.9 263.1 330 262.1 333.6 260.4 C337.2 258.7 340.4 259.1 342.4 255.6 C344.4 252.1 344.7 243.6 345.6 239.6 C346.5 235.6 345.5 233.6 348 231.6 C350.5 229.6 357.6 230.5 360.8 227.6 C364 224.7 366 218.1 367.2 214 C368.4 209.9 367.7 206.1 368 202.8 C368.3 199.5 366.8 195.9 368.8 194Z" fill="url(#c1silver2)" stroke="#5a5a5a" stroke-width="0.9"/>
<ellipse cx="336.5" cy="279.3" rx="13" ry="9.8" transform="rotate(-25 336.5 279.3)" fill="#1a1a1a" stroke="#8a8a8a" stroke-width="0.8"/>
<path d="M345.1 239.9 L359.5 242.8 L357.9 249.2 L344 246Z" fill="#1c1c1c"/>
<path d="M372 198 C372.8 195.1 377.5 194.3 380 196.4 C382.5 198.5 386.1 206.3 387.2 210.8 C388.3 215.3 387.6 220.8 386.4 223.6 C385.2 226.4 381.9 229.2 380 227.6 C378.1 226 376.5 218.9 375.2 214 C373.9 209.1 371.2 200.9 372 198Z" fill="#8e8e8e"/>
<path d="M370.4 231.6 C371.5 231.6 374.2 241.2 373.9 246 C373.7 250.8 370.5 256.7 368.8 260.4 C367.1 264.1 364.3 270.8 364 268.4 C363.7 266 366.1 252.1 367.2 246 C368.3 239.9 369.3 231.6 370.4 231.6Z" fill="#888"/>
<text x="337.8" y="261.5" font-family="'Liberation Serif', serif" font-weight="bold" font-size="8.5" fill="#3a3a3a" transform="rotate(14 337.8 261.5)">SBS</text></g>
<g id="c2" clip-path="url(#clip_c2)"><rect x="925" y="45" width="400" height="400" fill="url(#c2int)"/>
<g filter="url(#fab)"><path d="M1000.1 120.1 C1010.8 125.4 985.4 138.8 978.7 152.1 C972.1 165.5 964.9 183.3 960.1 200.2 C955.2 217.1 951.3 235.8 949.9 253.6 C948.5 271.4 949.8 293.7 951.5 307 C953.2 320.4 966.2 329.3 960.1 333.7 C953.9 338.2 922.2 369.3 914.7 333.7 C907.1 298.1 900.4 155.7 914.7 120.1 C928.9 84.5 989.4 114.8 1000.1 120.1Z" fill="#8f8c89"/>
<path d="M1014 270.2 L1104.1 222.9 L1173.6 181.2 L1223.9 150 L1253.5 124.4 L1300 90 L1325.9 200.2 L1325.9 445.9 L1014 445.9Z" fill="#878481"/></g>
<path d="M1014 270.2 L1032.1 259 L1032.1 445.9 L1014 445.9Z" fill="#6a6765" opacity="0.35"/>
<path d="M1032.1 72 C1044.6 66.3 1078 60.5 1080.2 72 C1082.4 83.6 1054.8 117.9 1045.5 141.5 C1036.2 165.1 1029.3 192.2 1024.1 213.6 C1019 234.9 1016.6 249.6 1014.8 269.6 C1013 289.7 1013.6 305.2 1013.5 333.7 C1013.3 362.2 1021.6 422.7 1014 440.5 C1006.4 458.3 977.9 451.7 968.1 440.5 C958.2 429.4 957.2 396 954.7 373.8 C952.3 351.5 953.9 327 953.4 307 C952.8 287 950.2 271.4 951.5 253.6 C952.8 235.8 956.6 217.1 961.4 200.2 C966.2 183.3 972.7 167.7 980.1 152.1 C987.4 136.6 996.8 120.1 1005.4 106.8 C1014.1 93.4 1019.7 77.8 1032.1 72Z" fill="#262626"/>
<path d="M1000.1 120.1 C996.5 126.8 984.8 144.6 978.7 160.2 C972.7 175.7 967.2 195.8 964.1 213.6 C960.9 231.4 960.3 249.2 960.1 267 C959.8 284.8 960.5 300.3 962.7 320.4 C964.9 340.4 971.6 376 973.4 387.1" fill="none" stroke="#2b2b2b" stroke-width="9"/>
<path d="M1046.2 81.7 C1041 92.8 1023.2 128.4 1015.4 148.5 C1007.7 168.5 1003.2 184.1 999.4 201.9 C995.6 219.7 994.2 237.5 992.8 255.3 C991.3 273.1 990.7 290.9 990.7 308.7 C990.7 326.5 991.7 346.5 992.8 362.1 C993.8 377.7 996.1 395.5 996.8 402.1" fill="none" stroke="url(#c2teeth)" stroke-width="5"/>
<path d="M1058.2 80.4 C1054.2 89.5 1040.8 117.1 1034.1 135.1 C1027.5 153.1 1021.9 170.7 1018.1 188.5 C1014.3 206.3 1012.8 226.3 1011.4 241.9 C1010.1 257.5 1010.1 266.4 1010.1 282 C1010.1 297.5 1010.6 317.6 1011.4 335.4 C1012.3 353.2 1014.8 379.9 1015.4 388.8" fill="none" stroke="#5e5e5e" stroke-width="1.8"/>
<path d="M1050.2 80.4 C1046.4 89.5 1033.9 117.1 1027.5 135.1 C1021 153.1 1015.2 170.7 1011.4 188.5 C1007.7 206.3 1006.1 226.3 1004.8 241.9 C1003.4 257.5 1003.4 266.4 1003.4 282 C1003.4 297.5 1003.9 317.6 1004.8 335.4 C1005.7 353.2 1008.1 379.9 1008.8 388.8" fill="none" stroke="#111" stroke-width="4"/>
<path d="M1026.1 93.7 C1022.6 105.1 1010.1 141.6 1004.8 161.8 C999.4 182.1 996.8 197.4 994.1 215.2 C991.4 233 989.6 250.8 988.7 268.6 C987.9 286.4 988.1 302 988.7 322 C989.4 342 992.1 377.7 992.8 388.8" fill="none" stroke="#484848" stroke-width="1.6"/>
<path d="M1227.1 176.7 L1267.1 173 L1325.9 178.9 L1325.9 445.9 L1203.6 445.9 L1204.4 400.5 L1207 333.7 L1213.7 280.3 L1223.1 205.6Z" fill="#1b1b1b"/>
<path d="M1221.2 245.6 C1227 240.7 1235.4 248.3 1248.4 250.9 C1261.4 253.6 1289.4 252.3 1299.2 261.6 C1309 271 1308.1 288.3 1307.2 307 C1306.3 325.7 1310.8 357.8 1293.8 373.8 C1276.8 389.8 1219.5 409.8 1205.2 403.2 C1190.9 396.5 1206.4 354.2 1207.9 333.7 C1209.3 313.3 1211.5 295 1213.7 280.3 C1216 265.6 1215.4 250.5 1221.2 245.6Z" fill="url(#c2mesh)"/>
<path d="M1264.5 189.5 C1267.6 187.8 1277.4 194 1277.8 200.2 C1278.3 206.4 1270.7 219.8 1267.1 226.9 C1263.6 234 1259.6 242.9 1256.4 242.9 C1253.3 242.9 1248 232.3 1248.4 226.9 C1248.9 221.6 1256.4 217.1 1259.1 210.9 C1261.8 204.7 1261.3 191.3 1264.5 189.5Z" fill="#4a4a4a" opacity="0.8" filter="url(#blur2)"/>
<path d="M1235.1 189.5 C1238.6 187.8 1252.9 190.9 1253.8 194.9 C1254.7 198.9 1244 211.8 1240.4 213.6 C1236.9 215.3 1233.3 209.6 1232.4 205.6 C1231.5 201.5 1231.5 191.3 1235.1 189.5Z" fill="#333" filter="url(#blur2)"/>
<path d="M1275.1 178.9 C1277.8 175.3 1291.2 181.5 1293.8 189.5 C1296.5 197.5 1293.8 223.4 1291.2 226.9 C1288.5 230.5 1280.5 218.9 1277.8 210.9 C1275.1 202.9 1272.5 182.4 1275.1 178.9Z" fill="#2e2e2e" filter="url(#blur2)"/>
<path d="M1041.5 287 L1225.7 176.7 L1227.6 189.5 L1050.8 300.3 L1050.3 305.7 L1040.7 306.5Z" fill="#161616"/>
<path d="M1042.3 305.7 L1038 407.2" fill="none" stroke="#3a3836" stroke-width="1.5"/>
<path d="M1227.1 178.9 C1226.4 183.3 1225.3 188.6 1223.1 205.6 C1220.8 222.5 1216.4 259 1213.7 280.3 C1211.1 301.7 1208.6 313.7 1207 333.7 C1205.5 353.8 1204.8 389.4 1204.4 400.5" fill="none" stroke="#55524f" stroke-width="1.5"/></g>
<g id="c3" clip-path="url(#clip_c3)"><path d="M14.7 688 C8.5 689.3 13.1 705.5 16 713.3 C18.9 721.1 20 723.1 32 734.7 C44.1 746.3 65 764.5 88.1 782.8 C111.3 801 153.5 832.6 170.9 844.2 C188.3 855.7 185.1 852.2 192.3 852.2 C199.4 852.2 205.2 850.8 213.6 844.2 C222.1 837.5 251.9 826.4 243 812.1 C234.1 797.9 191.8 776.5 160.2 758.7 C128.6 740.9 77.7 717.1 53.4 705.3 C29.1 693.5 20.9 686.6 14.7 688Z" fill="#262626"/>
<g filter="url(#fab)"><path d="M20 700 L235 816.1 L229.6 824.1 L26.7 717.3Z" fill="#8d8a87"/>
<path d="M100.1 768.1 L149.5 780.1 L241.7 822.8 L229.6 840.2 L194.9 850.8 L170.9 838.8 L106.8 794.8Z" fill="#93908d"/></g>
<path d="M26.7 732 L88.1 766.7 L186.9 846.8" fill="none" stroke="#1a1a1a" stroke-width="3"/>
<path d="M32 742.7 L106.8 796.1 L176.2 845.5" fill="none" stroke="#3a3a3a" stroke-width="2"/>
<path d="M252.3 535 C254.6 531.5 259.2 531 267 532.3 C274.8 533.5 289.1 538.3 299.1 542.4 C309.1 546.6 322 552.4 327.1 557.1 C332.2 561.8 331.3 566 329.8 570.5 C328.2 574.9 323.8 583.6 317.8 583.8 C311.7 584 304.4 576.9 293.7 571.8 C283 566.7 260.6 559.3 253.7 553.1 C246.8 547 250.1 538.4 252.3 535Z" fill="#2a2a2a"/>
<g filter="url(#fab)"><path d="M16.6 680 L24 667.9 L186.9 513.1 L196.3 509.1 L349.8 578.5 L373.8 625.2 L307.1 705.3 L244.3 808.1 L235 811.3 L224.3 808.1 L21.4 692 L15.5 686.6Z" fill="#a09d9a"/></g>
<path d="M243 809.5 L235 812.1 L224.3 808.9 L21.4 692.8 L15.5 686.6 L17.1 678.6 L25.4 667.9" fill="none" stroke="#1f1f1f" stroke-width="4.5" stroke-linejoin="round"/>
<path d="M25.4 667.9 L188.3 513.1 L196.3 509.6" fill="none" stroke="#2a2a2a" stroke-width="2.5"/>
<path d="M372.5 625.2 L307.1 705.3 L244.3 808.1" fill="none" stroke="#4a4846" stroke-width="2"/>
<path d="M184.2 517.1 L379.2 603.9 L373.8 619.9 L172.2 535Z" fill="#242424"/>
<g filter="url(#fab)"><path d="M247.8 555.3 C250.5 551.7 256.7 545.3 264.4 545.6 C272 546 284.7 553.3 293.7 557.1 C302.7 561 314.5 564.2 318.3 568.6 C322.1 573.1 319.4 580.5 316.4 583.8 C313.4 587.1 307.7 589.5 300.4 588.4 C293.1 587.3 281 580.7 272.4 577.1 C263.7 573.6 252.4 570.7 248.3 567 C244.2 563.4 245.1 558.8 247.8 555.3Z" fill="#9a9794"/></g>
<path d="M247.8 555.3 C250.5 551.7 256.7 545.3 264.4 545.6 C272 546 284.7 553.3 293.7 557.1 C302.7 561 314.5 564.2 318.3 568.6 C322.1 573.1 319.4 580.5 316.4 583.8 C313.4 587.1 307.7 589.5 300.4 588.4 C293.1 587.3 281 580.7 272.4 577.1 C263.7 573.6 252.4 570.7 248.3 567 C244.2 563.4 245.1 558.8 247.8 555.3Z" fill="none" stroke="#333" stroke-width="1.5"/>
<path d="M165.3 563.1 Q173.6 555.8 183.4 560.6 L311.9 623.6 Q321.8 628.4 315.2 637.2 L273.6 692.5 Q267 701.3 257.3 696.2 L115.2 621 Q105.5 615.9 113.7 608.6Z" fill="url(#c3win)" stroke="#1c1c1c" stroke-width="3.5"/>
<path d="M144.2 625.2 C139.7 618.1 150.4 608.3 160.2 609.2 C170 610.1 198.5 623.4 202.9 630.6 C207.4 637.7 196.7 652.8 186.9 651.9 C177.1 651 148.6 632.3 144.2 625.2Z" fill="#454545" opacity="0.8" filter="url(#blur2)"/>
<path d="M192.3 622.5 C205.6 623.9 256.3 647.9 267 657.3 C277.7 666.6 269.7 680 256.3 678.6 C243 677.3 197.6 658.6 186.9 649.2 C176.2 639.9 178.9 621.2 192.3 622.5Z" fill="#3e3e3e" opacity="0.8" filter="url(#blur2)"/>
<path d="M138.9 603.9 C118.4 590.5 142.9 562 170.9 566.5 C198.9 570.9 286.6 617.2 307.1 630.6 C327.5 643.9 321.8 651 293.7 646.6 C265.7 642.1 159.3 617.2 138.9 603.9Z" fill="#262626" opacity="0.7" filter="url(#blur2)"/>
<path d="M241.7 571.8 L248.3 582.5" fill="none" stroke="#d0d0d0" stroke-width="2"/>
<path d="M102.8 628.4 L126 635.9 L123.4 649.8 L100.1 641.8Z" fill="#2a2a2a"/>
<path d="M228.8 696.8 L251.5 704 L248.9 716.5 L226.4 709.3Z" fill="#2d2d2d"/>
<path d="M186.9 741.4 L232.8 766.7 L219.5 789.4 L174.9 764.1Z" fill="#ececec"/>
<g transform="translate(182.5 757.5) rotate(29) scale(0.8 0.8)" font-family="'Liberation Serif', serif" font-style="italic" font-weight="bold" fill="#1e1e1e"><text x="0" y="0" font-size="15">E</text><text x="9.5" y="-1.2" font-size="8.6" textLength="31" lengthAdjust="spacingAndGlyphs">denpetz</text><rect x="7" y="2.2" width="33" height="0.9" fill="#555" transform="rotate(2)"/><rect x="9" y="4.4" width="31" height="0.7" fill="#777" transform="rotate(2)"/></g>
<path d="M307.1 713.3 L311.1 728" fill="none" stroke="#d8d8d8" stroke-width="2.2"/></g>
<g id="c4" clip-path="url(#clip_c4)"><rect x="190" y="1068" width="400" height="400" fill="#141515"/>
<path d="M330 1070 L560 1070 L580 1200 L547.2 1189.8 L522 1152.4 L468.5 1147 L415 1132.4 L375 1120.4 L352 1113 L350 1096Z" fill="#303030"/>
<path d="M340 1087 L375 1092.5 L428 1105 L508 1134 L535 1146 L530 1156 L508 1146 L428 1120.5 L375 1104.5 L345 1098Z" fill="#6f6c6a"/>
<path d="M340 1087 L375 1092.5 L428 1105 L508 1134 L535 1146" fill="none" stroke="#8f8c8a" stroke-width="1.5"/>
<path d="M345 1098 L375 1104.5 L428 1120.5 L508 1146 L530 1156 L547.2 1189.8 L522 1152.4 L468.5 1147 L415 1132.4 L375 1120.4 L352 1113Z" fill="#2a2a2a"/>
<path d="M423.7 1088.4 L447.8 1095 L444.4 1101.7 L421.7 1096.4Z" fill="#111"/>
<path d="M211 1225.2 L212.4 1195.2 L235.1 1155.1 L268.4 1119.1 L299.1 1107 L349.9 1107.7 L350.5 1167.1 L333.9 1170.1 L328.5 1173.1 L261.8 1202.9Z" fill="url(#c4light)"/>
<path d="M299.1 1105 L349.9 1106 L349.9 1110 L333.9 1108.4 L315.2 1110 L299.1 1108.4Z" fill="#8d8d8a" opacity="0.8" filter="url(#blur1)"/>
<path d="M288.5 1101.7 L350.5 1103.7 L350.5 1107 L299.1 1106 L287.1 1112.4Z" fill="#1e1e1e"/>
<path d="M208.4 1226.5 L261.8 1202.9 L328.5 1173.1 L333.9 1170.1 L350.5 1167.1 L350.9 1173.8 L335.2 1177.1 L263.1 1209.8 L208.4 1234.5Z" fill="#2d2e2d"/>
<path d="M208.4 1226.5 L261.8 1202.9 L328.5 1173.1 L333.9 1170.1" fill="none" stroke="#6a6a68" stroke-width="1.2"/>
<g filter="url(#fab)"><path d="M203 1321.1 L217.7 1327.8 L261.8 1350.4 L301.8 1370.5 L341.9 1390.5 L381.9 1409.2 L395 1416.5 L428.4 1431.2 L439.1 1425.2 L460.4 1393.2 L501.8 1403.2 L535.2 1438.6 L535.2 1478.6 L174.7 1478.6Z" fill="#9a948f"/>
<path d="M552.6 1208.5 L567.3 1223.2 L562 1248.6 L548 1268 L525.9 1318.4 L509.8 1371.8 L501.8 1402.5 L463.1 1393.2 L468.5 1371.8 L481.8 1318.4 L505 1272 L523 1246 L541.9 1219.2Z" fill="#a8a5a2"/></g>
<path d="M441.8 1418.5 C456.2 1411.6 488.5 1401.6 501.8 1403.9 C515.2 1406.1 527.4 1423.4 521.9 1431.9 C516.3 1440.3 486.3 1452.4 468.5 1454.6 C450.7 1456.8 419.5 1451.2 415.1 1445.2 C410.6 1439.2 427.3 1425.4 441.8 1418.5Z" fill="#aeaaa6" opacity="0.5" filter="url(#blur4)"/>
<path d="M460.4 1393.2 L495.2 1406.5" fill="none" stroke="#5a5856" stroke-width="1.5"/>
<path d="M567.3 1223.2 L600 1230 L600 1420 L501.8 1402.5 L509.8 1371.8 L525.9 1318.4 L548 1268 L562 1248.6Z" fill="#242424"/>
<path d="M574 1240 C571.7 1247.5 565.7 1269.2 560 1285 C554.3 1300.8 546 1318.3 540 1335 C534 1351.7 526.7 1376.7 524 1385" fill="none" stroke="#4a4a4a" stroke-width="1.3"/>
<path d="M547.2 1189.8 C545.3 1193.2 540.9 1201.6 536 1210 C531.1 1218.4 524 1230.3 518 1240 C512 1249.7 506.7 1255.5 500 1268 C493.3 1280.5 483.8 1298.3 478 1315 C472.2 1331.7 468.1 1355.2 465 1368 C461.9 1380.8 460.4 1388 459.5 1392" fill="none" stroke="#2b2c2b" stroke-width="7"/>
<path d="M549.4 1190.8 C547.5 1194.2 543.1 1202.6 538.2 1211 C533.3 1219.4 526.2 1231.3 520.2 1241 C514.2 1250.7 508.9 1256.5 502.2 1269 C495.5 1281.5 486 1299.3 480.2 1316 C474.4 1332.7 470.3 1356.2 467.2 1369 C464.1 1381.8 462.6 1389 461.7 1393" fill="none" stroke="#555" stroke-width="1.2"/>
<path d="M203 1270.3 L207 1273 L235.1 1291.7 L288.5 1315.7 L328.5 1329.1 L368.6 1350.4 L375 1350.4 L408.4 1361.1 L435.1 1370.5 L447.8 1372.5 L455.1 1381.2 L453.8 1398.5 L444.4 1418.5 L437.8 1425.9 L428.4 1431.2 L388.4 1413.5 L375 1406.8 L381.9 1409.2 L341.9 1390.5 L301.8 1370.5 L261.8 1350.4 L217.7 1327.8 L203 1321.1Z" fill="url(#c4roll)"/>
<path d="M203 1270.3 L235.1 1291.7 L288.5 1315.7 L328.5 1329.1 L368.6 1350.4 L375 1350.4 L408.4 1361.1 L435.1 1370.5 L447.8 1372.5 L447.1 1375.8 L408.4 1366.5 L375 1356.5 L368.6 1357.1 L328.5 1335.8 L288.5 1322.4 L235.1 1298.4 L203 1278.4Z" fill="#1a1b1a"/>
<path d="M421.1 1389.2 C423.3 1384.7 428.1 1380.9 432.4 1378.5 C436.7 1376 443.3 1373.8 447.1 1374.5 C450.9 1375.1 454.1 1378.3 455.1 1382.5 C456.1 1386.7 455.1 1393.6 453.1 1399.8 C451.1 1406.1 446.3 1415.1 443.1 1419.9 C439.9 1424.7 436.6 1428.1 433.7 1428.6 C430.9 1429 428.2 1426.4 425.7 1422.5 C423.3 1418.6 419.8 1410.7 419.1 1405.2 C418.3 1399.6 418.8 1393.6 421.1 1389.2Z" fill="#191919"/>
<path d="M428.4 1393.2 C430.1 1389.4 435.1 1386.7 437.8 1386.5 C440.4 1386.3 443.8 1388.5 444.4 1391.8 C445.1 1395.2 443.5 1402.3 441.8 1406.5 C440 1410.7 436.1 1416.8 433.7 1417.2 C431.4 1417.6 428.6 1413.2 427.7 1409.2 C426.8 1405.2 426.7 1397 428.4 1393.2Z" fill="none" stroke="#3a3a3a" stroke-width="1.5"/>
<path d="M432.4 1398.5 C433.1 1396.1 436.7 1395 437.8 1395.8 C438.8 1396.7 439.1 1401.4 438.4 1403.9 C437.8 1406.3 434.7 1411.4 433.7 1410.5 C432.7 1409.6 431.7 1401 432.4 1398.5Z" fill="#0c0c0c"/>
<path d="M383 1411.2 L388.4 1413.5 L428.4 1431.2 L425.7 1433.9 L385.7 1415.9Z" fill="#111"/>
<circle cx="449.1" cy="1372.2" r="2.8" fill="#e4e4e4" stroke="#888" stroke-width="0.5"/>
<path d="M446.4 1378.5 C448 1376.3 450.7 1375.4 452.4 1377.1 C454.1 1378.9 455.9 1384.7 456.7 1389.2 C457.5 1393.6 457.7 1400.2 457.1 1403.9 C456.5 1407.5 455.2 1410.1 453.1 1411.2 C451 1412.3 446.5 1411.8 444.4 1410.5 C442.3 1409.3 440.6 1407.2 440.4 1403.9 C440.2 1400.5 442.1 1394.7 443.1 1390.5 C444.1 1386.3 444.9 1380.7 446.4 1378.5Z" fill="#d4d4d4" stroke="#6f6f6f" stroke-width="0.7"/>
<path d="M447.8 1382.5 C448.8 1380.8 451.4 1380 452.4 1381.8 C453.4 1383.6 454.2 1390.6 453.8 1393.2 C453.3 1395.7 451 1397.4 449.8 1397.2 C448.5 1397 446.8 1394.3 446.4 1391.8 C446.1 1389.4 446.8 1384.2 447.8 1382.5Z" fill="#9a9a9a"/>
<ellipse cx="448.2" cy="1404.9" rx="3.6" ry="2.8" fill="#2a2a2a"/></g>
<g id="c5" clip-path="url(#clip_c5)"><path d="M905.2 1076 L921.2 1076 L921.2 1105.4 L905.2 1105.4Z" fill="#2a2a2a"/>
<path d="M989.3 1070.7 L1004 1070.7 L1004 1122.8 L989.3 1122.8Z" fill="#2a2a2a"/>
<path d="M988 1100.1 L1005.3 1100.1 L1005.3 1122.8 L988 1122.8Z" fill="#1c1c1c"/>
<path d="M883.8 1114.7 C884.4 1112.6 884.5 1109 887.8 1106.7 C891.2 1104.5 889.6 1101.8 903.9 1101.4 C918.1 1101 960.6 1103 973.3 1104.3 C986 1105.7 979.1 1107.2 980 1109.4 C980.8 1111.6 980.2 1116.2 978.6 1117.4 C977.1 1118.6 983.1 1117.3 970.6 1116.6 C958.1 1115.9 917 1113 903.9 1113.4 C890.7 1113.8 895 1118.3 891.8 1119.3 C888.6 1120.3 886 1120 884.6 1119.3 C883.3 1118.5 883.3 1116.8 883.8 1114.7Z" fill="#262626"/>
<g filter="url(#fab)"><path d="M898 1104.3 L903.9 1102.7 L968.5 1105.9 L970.1 1114.5 L904.4 1111.5 L898.5 1112.9Z" fill="#b5b2ae"/></g>
<path d="M827.8 1371.1 L969.3 1389.8 L990.6 1379.1 L1000 1403.1 L1094.8 1353.7 L1110.8 1360.4 L1112.1 1368.4 L1096.1 1416.5 L1064.1 1423.7 L992 1436 L983.4 1433.8 L988 1408.5 L957.3 1405 L951.9 1397 L833.1 1380.4Z" fill="#1a1a1a"/>
<path d="M1005.3 1404.5 L1092.1 1360.4 L1105.5 1364.4 L1090.8 1409.8 L1000 1428.5 L996 1419.1Z" fill="#262626"/>
<g filter="url(#fab)"><path d="M986 1123 L1029.8 1122 L1017.7 1137.4 L1007.1 1154.8 L997.7 1181.5 L992.4 1214.9 L990.4 1252 L950 1237 L959.2 1201.5 L975 1153.4Z" fill="#9d9996"/>
<path d="M805.1 1228.8 L951.9 1233 L991.4 1246.9 L989.8 1380.4 L969.3 1390.6 L829.1 1373 L805.1 1353.7Z" fill="#9d9996"/></g>
<path d="M805.1 1228.8 L951.9 1233 L991.4 1246.9 L991.4 1250.1 L951.9 1236.8 L805.1 1232.5Z" fill="#6a6765" opacity="0.55"/>
<path d="M829.1 1373 L969.3 1390.6 L989.8 1380.4" fill="none" stroke="#1c1c1c" stroke-width="3.5" stroke-linejoin="round"/>
<path d="M851 1117.4 L988 1123.6 L981.8 1140.1 L963.9 1188.2 L951.9 1233 L805.1 1228.8 L805.1 1185.5 L821.1 1148.1 L839.8 1124.1Z" fill="url(#c5mesh)" stroke="#1b1b1b" stroke-width="3"/>
<path d="M988.8 1123.6 C987.6 1126.3 986 1129.3 981.8 1140.1 C977.7 1150.9 968.9 1172.7 963.9 1188.2 C958.9 1203.7 953.9 1225.6 951.9 1233" fill="none" stroke="#1b1b1b" stroke-width="5"/>
<path d="M808.4 1188.2 C807.5 1183.6 808.9 1174.8 810 1169.5 C811.1 1164.1 813.2 1158.8 815.1 1156.1 C816.9 1153.4 819.9 1150.3 821.1 1153.4 C822.2 1156.6 821.7 1167.9 821.7 1174.8 C821.7 1181.7 822.2 1191.2 821.1 1194.8 C819.9 1198.5 817.2 1198 815.1 1196.8 C812.9 1195.7 809.2 1192.7 808.4 1188.2Z" fill="#8c8c8c" opacity="0.85" filter="url(#blur1)"/>
<path d="M1029.8 1121 L1050 1118.5 L1071 1117 L1080 1119.5 L1085 1126 L1088 1150 L1096.1 1353.7 L999.4 1404.5 L989.8 1380.4 L990.4 1250 L992.4 1214.9 L997.7 1181.5 L1007.1 1154.8 L1017.7 1137.4Z" fill="#1c1d1c"/>
<path d="M1057.5 1142 Q1061.4 1137.4 1067.3 1138.3 L1075.6 1139.5 Q1079.6 1140.1 1079.7 1144.1 L1086.7 1344.9 Q1086.8 1347.9 1084.1 1349.2 L1006.6 1389.7 Q1004 1391.1 1003.9 1388.1 L1002.2 1303.3 Q1002.1 1300.3 1002.4 1297.3 L1008.3 1240.8 Q1009.3 1230.9 1012.7 1221.5 L1026 1184.2 Q1029.4 1174.8 1035.9 1167.2Z" fill="#151515"/>
<path d="M1058.7 1156.1 L1080.1 1141.4 L1086.8 1347 L1062.7 1328.4Z" fill="#222322"/>
<path d="M1004 1390.6 L1086.8 1347 L1062.7 1328.4 L1006.7 1351.1Z" fill="#2e2f2e"/>
<path d="M1071.2 1121.4 C1066.1 1123.2 1049.1 1126.8 1040.4 1132.1 C1031.7 1137.4 1024.4 1145.2 1019.1 1153.4 C1013.8 1161.6 1011.3 1171.2 1008.4 1181.5 C1005.5 1191.8 1003.2 1200.5 1001.7 1214.9 C1000.2 1229.3 999.7 1248.8 999.1 1268 C998.5 1287.2 998.2 1319.7 998 1330" fill="none" stroke="#5a5a5a" stroke-width="1.3"/>
<path d="M851 1116.5 L985 1121.5 L1030 1120.5 L1030 1123.5 L985 1124.5 L851 1119.5Z" fill="#1b1b1b"/>
<path d="M907.9 1246.9 L931.9 1248.3 L931.9 1266.9 L907.9 1265.6Z" fill="#232323"/>
<path d="M899.8 1327 L951.1 1333.7 L951.1 1363.1 L899.8 1356.4Z" fill="#ececec"/>
<g transform="translate(904.5 1347.2) rotate(6) scale(1 1)" font-family="'Liberation Serif', serif" font-style="italic" font-weight="bold" fill="#1e1e1e"><text x="0" y="0" font-size="15">E</text><text x="9.5" y="-1.2" font-size="8.6" textLength="31" lengthAdjust="spacingAndGlyphs">denpetz</text><rect x="7" y="2.2" width="33" height="0.9" fill="#555" transform="rotate(2)"/><rect x="9" y="4.4" width="31" height="0.7" fill="#777" transform="rotate(2)"/></g>
<g transform="translate(1068.9 1152.1) rotate(0) scale(1.35)"><circle r="1.6" cy="-4.5" fill="#ddd"/><rect x="-1.8" y="-3.5" width="3.6" height="8" rx="1.2" fill="#cfcfcf" stroke="#666" stroke-width="0.5"/><rect x="-0.7" y="0" width="1.4" height="3" fill="#555"/></g>
<g transform="translate(1084.1 1356.9) rotate(20) scale(1.0)"><circle r="1.6" cy="-4.5" fill="#ddd"/><rect x="-1.8" y="-3.5" width="3.6" height="8" rx="1.2" fill="#cfcfcf" stroke="#666" stroke-width="0.5"/><rect x="-0.7" y="0" width="1.4" height="3" fill="#555"/></g>
<g transform="translate(1005.3 1416.5) rotate(60) scale(1.3)"><circle r="1.6" cy="-4.5" fill="#ddd"/><rect x="-1.8" y="-3.5" width="3.6" height="8" rx="1.2" fill="#cfcfcf" stroke="#666" stroke-width="0.5"/><rect x="-0.7" y="0" width="1.4" height="3" fill="#555"/></g>
<g transform="translate(845.1 1391.1) rotate(10) scale(1.0)"><circle r="1.6" cy="-4.5" fill="#ddd"/><rect x="-1.8" y="-3.5" width="3.6" height="8" rx="1.2" fill="#cfcfcf" stroke="#666" stroke-width="0.5"/><rect x="-0.7" y="0" width="1.4" height="3" fill="#555"/></g>
<g transform="translate(856.3 1392.7) rotate(-10) scale(1.0)"><circle r="1.6" cy="-4.5" fill="#ddd"/><rect x="-1.8" y="-3.5" width="3.6" height="8" rx="1.2" fill="#cfcfcf" stroke="#666" stroke-width="0.5"/><rect x="-0.7" y="0" width="1.4" height="3" fill="#555"/></g></g>
<g id="c6" clip-path="url(#clip_c6)"><path d="M1351.1 633 L1401.1 633 L1401.1 713.1 L1351.1 691.8Z" fill="#262626"/>
<path d="M1367.8 633 L1379.8 633 L1379.8 699.8 L1367.8 694.4Z" fill="#303030" opacity="0.7"/>
<g filter="url(#fab)"><path d="M1121 771.9 L1133 742.5 L1143.7 723.8 L1157.1 699.8 L1179.8 683.7 L1195.8 682.4 L1299.9 691.8 L1373.1 699.8 L1439.9 738.5 L1466.6 758.5 L1506.6 771.9 L1520 1032 L1092.7 1032Z" fill="url(#c6top)"/></g>
<path d="M1255.5 740.5 C1278.7 740.1 1356.6 771.2 1386.4 785.9 C1416.2 800.6 1431.3 817 1434.4 828.6 C1437.6 840.2 1425.5 855.3 1405.1 855.3 C1384.6 855.3 1337.9 839.7 1311.6 828.6 C1285.4 817.5 1256.9 803.3 1247.5 788.6 C1238.2 773.9 1232.4 740.9 1255.5 740.5Z" fill="#4d4a48" opacity="0.6" filter="url(#blur4)"/>
<path d="M1135.4 765.9 L1268.9 801.9 L1391.7 855.3 L1485.2 899.4" fill="none" stroke="#aaa5a1" stroke-width="4" opacity="0.55" filter="url(#blur1)"/>
<path d="M1132.7 778.4 L1268.9 818.5 L1391.7 871.9 L1485.2 916.7" fill="none" stroke="#55524f" stroke-width="2.6" opacity="0.7" filter="url(#blur1)"/>
<path d="M1268.9 836.6 L1391.7 891.4 L1485.2 935.4" fill="none" stroke="#aaa5a1" stroke-width="3.5" opacity="0.5" filter="url(#blur1)"/>
<path d="M1338.3 892.7 L1418.4 930.1 L1485.2 958.1" fill="none" stroke="#5f5c59" stroke-width="2.5" opacity="0.6" filter="url(#blur1)"/>
<path d="M1121 786.5 L1125 790.6 L1166.4 809.2 L1177.1 819.7 L1206.5 831.7 L1233.2 846.4 L1263.9 858.4 L1313 880.4 L1333.1 885.1 L1366.4 901.1 L1393.1 922.5 L1406.5 945.2 L1408.1 962.5 L1397.1 982.6 L1359.8 1032 L1079.4 1032 L1099.6 798.6Z" fill="#292a29"/>
<path d="M1121 786.5 L1125 790.6 L1166.4 809.2 L1177.1 819.7 L1206.5 831.7 L1233.2 846.4 L1263.9 858.4 L1313 874.4 L1313 901.1 L1259.9 885.1 L1206.5 861.1 L1153.1 845.1 L1121 831.7Z" fill="url(#c6nyl)"/>
<path d="M1313 881.8 C1316.4 882.6 1324.3 883.3 1333.1 886.7 C1341.8 890.2 1356 896.3 1365.8 902.5 C1375.6 908.6 1385.3 916.6 1391.8 923.8 C1398.3 931.1 1402.4 939.4 1404.9 945.9 C1407.3 952.3 1407.9 956.6 1406.5 962.5 C1405.1 968.4 1398.1 978.1 1396.5 981.2" fill="none" stroke="#3c3d3c" stroke-width="6"/>
<path d="M1313 885.8 C1316.1 886.6 1323.4 887.1 1331.7 890.4 C1340.1 893.8 1353.6 899.8 1363.1 905.8 C1372.6 911.8 1382.2 919.6 1388.5 926.5 C1394.8 933.4 1398.6 941.2 1400.9 947.2 C1403.2 953.2 1403.5 957.1 1402.2 962.5 C1400.9 968 1394.6 977 1393.1 979.9" fill="none" stroke="#191919" stroke-width="2"/>
<path d="M1121 785.9 L1166.4 808.6 L1177.1 819 L1206.5 831" fill="none" stroke="#111" stroke-width="3"/>
<path d="M1394.5 846.4 L1406.5 831.7 L1413.2 825 L1413.2 798.6 L1450.5 770.5 L1479.9 771.9 L1506.6 785.2 L1506.6 898.5 L1465.2 890.4Z" fill="url(#c6web)"/>
<path d="M1394.5 846.4 L1465.2 890.4 L1506.6 898.5 L1506.6 874.4 L1466.6 861.1 L1413.2 831.7Z" fill="#151515" opacity="0.55"/>
<g filter="url(#fab)"><path d="M1471.9 829 L1485.3 825 L1485.3 841 L1473.2 839.7Z" fill="#9a9794"/><path d="M1453.2 766.5 L1465.2 767.2 L1461.2 773.2 L1451.9 771.9Z" fill="#aaa6a3"/></g>
<path d="M1143.7 735.8 L1157.7 711.8 L1177.1 706.7 L1254.5 738.5 L1246.5 745.8 L1187.8 757.2 L1171.7 756.1 L1144 740.1Z" fill="#1c1c1c"/>
<path d="M1145 735.1 L1158.1 712.4 L1177.1 707.1 L1183.1 721.1 L1180.4 752.9 L1171.7 755.8Z" fill="#363636"/>
<path d="M1195.8 731.8 L1206.5 723.8 L1208.1 725.1 L1198.4 735.8Z" fill="#777"/>
<g filter="url(#fab)"><path d="M1187.8 691.8 L1193.1 685.1 L1214.5 673.7 L1233.2 667.5 L1293.2 675.1 L1313 682.4 L1346.4 692.4 L1399.8 712.4 L1439.9 739.2 L1458.6 751.8 L1437.2 753.2 L1419.8 758.5 L1409.2 765.2 L1386.5 789.2 L1326.4 765.2 L1286.6 745.8 L1250.5 735.8 L1199.8 721.1 L1191.8 707.8Z" fill="#aeaaa6"/></g>
<path d="M1199.8 721.1 C1208.2 723.6 1236.1 731.9 1250.5 736.1 C1265 740.2 1273.9 741.2 1286.6 746.1 C1299.2 751 1309.7 758.2 1326.4 765.5 C1343 772.7 1376.4 785.5 1386.5 789.5" fill="none" stroke="#6a6663" stroke-width="3" opacity="0.7" filter="url(#blur1)"/>
<path d="M1199.8 721.4 C1197.8 720 1191.7 715.9 1187.8 713.1 C1183.9 710.3 1177.6 707.6 1176.4 704.4 C1175.2 701.3 1178.5 697.3 1180.4 694.4 C1182.3 691.6 1182.1 691 1187.8 687.5 C1193.4 683.9 1206.9 676.6 1214.5 673.1 C1222 669.5 1220 666.2 1233.2 666.4 C1246.3 666.6 1279.9 671.8 1293.2 674.4 C1306.6 677 1304.2 678.8 1313 681.7 C1321.9 684.6 1331.9 686.7 1346.4 691.8 C1360.9 696.8 1384.2 704 1399.8 711.8 C1415.4 719.6 1429.2 731.6 1439.9 738.5 C1450.5 745.4 1459.9 750.7 1463.9 753.2" fill="none" stroke="#2e2e2e" stroke-width="7.5" stroke-linecap="round" stroke-linejoin="round"/>
<path d="M1409.2 765.2 L1439.9 750.5 L1464.6 754.2 L1450.5 770.5 L1426.5 791.9 L1413.2 798.6 L1389.1 801.2 L1386.5 789.2Z" fill="url(#c6web)"/>
<path d="M1410.5 765.2 C1415.4 762.9 1431 753 1439.9 751.2 C1448.8 749.3 1459.9 753.7 1463.9 754.2" fill="none" stroke="#3a3a3a" stroke-width="2"/>
<path d="M1177.1 818.4 C1176.6 817.1 1182 815.1 1185.1 814.3 C1188.2 813.6 1190 813.3 1195.8 814.1 C1201.6 814.9 1211.4 817.7 1219.8 819 C1228.3 820.4 1241.9 821.1 1246.5 822.1 C1251.1 823.1 1247.6 824.2 1247.2 825 C1246.7 825.9 1248.4 827 1243.8 827 C1239.3 827 1227.4 825.8 1219.8 825 C1212.2 824.3 1203.8 823.2 1198.4 822.6 C1193.1 822.1 1191.3 822.4 1187.8 821.7 C1184.2 821 1177.5 819.6 1177.1 818.4Z" fill="#dadada" stroke="#777" stroke-width="0.6"/>
<path d="M1214.5 831.7 C1213.8 829.8 1220.6 829.9 1223.8 829.7 C1227 829.5 1229.4 828.5 1233.8 830.6 C1238.3 832.7 1245.5 838.6 1250.5 842.4 C1255.6 846.2 1262.7 851 1264.1 853.3 C1265.6 855.7 1263 857.3 1259.2 856.4 C1255.4 855.5 1246.4 850.2 1241.2 847.7 C1235.9 845.2 1232.3 844 1227.8 841.3 C1223.4 838.6 1215.1 833.6 1214.5 831.7Z" fill="#d2d2d2" stroke="#777" stroke-width="0.6"/>
<path d="M1198.4 823.7 C1199.8 822.8 1211.4 825.7 1214.5 827.7 C1217.6 829.7 1218.5 834.8 1217.1 835.7 C1215.8 836.6 1209.6 835 1206.5 833 C1203.3 831 1197.1 824.6 1198.4 823.7Z" fill="#3a3a3a"/></g>
<g id="rings"><circle cx="390.8" cy="191.5" r="184.3" fill="none" stroke="#dcdce8" stroke-width="10"/>
<circle cx="1122.3" cy="245" r="183.8" fill="none" stroke="#dcdce8" stroke-width="10.5"/>
<circle cx="191.5" cy="667" r="184.3" fill="none" stroke="#dcdce8" stroke-width="9"/>
<circle cx="384.6" cy="1262.5" r="184" fill="none" stroke="#dcdce8" stroke-width="10"/>
<circle cx="964" cy="1257" r="183.8" fill="none" stroke="#dcdce8" stroke-width="11.5"/>
<circle cx="1302" cy="812" r="183" fill="none" stroke="#dcdce8" stroke-width="10"/></g>
<g font-family="'Liberation Sans', sans-serif" fill="#000">
<text x="407.9" y="422.6" font-size="36.6" textLength="164.5" lengthAdjust="spacingAndGlyphs" stroke="#000" stroke-width="0.9">SBS zipper</text>
<text x="395.4" y="455" font-size="24.5" textLength="188.7" lengthAdjust="spacingAndGlyphs" stroke="#000" stroke-width="0.5">Safe and durable</text>
<text x="1024.9" y="480.6" font-size="35.5" textLength="332.8" lengthAdjust="spacingAndGlyphs" stroke="#000" stroke-width="0.9">Multiple side pockets</text>
<text x="1077.4" y="514.4" font-size="24" textLength="225.7" lengthAdjust="spacingAndGlyphs" stroke="#000" stroke-width="0.5">Carrying small items</text>
<text x="64.4" y="896.4" font-size="35.5" textLength="260.2" lengthAdjust="spacingAndGlyphs" stroke="#000" stroke-width="0.9">Foldable storage</text>
<text x="124.9" y="929.9" font-size="24.5" textLength="139.6" lengthAdjust="spacingAndGlyphs" stroke="#000" stroke-width="0.5">Easy to carry</text>
<text x="42" y="1464" font-size="35.5" textLength="291.2" lengthAdjust="spacingAndGlyphs" stroke="#000" stroke-width="0.9">Roller blind design</text>
<text x="66.5" y="1496.6" font-size="24.5" textLength="241.7" lengthAdjust="spacingAndGlyphs" stroke="#000" stroke-width="0.5">Breathable interactive</text>
<text x="1110.6" y="1441.9" font-size="35.5" textLength="204.9" lengthAdjust="spacingAndGlyphs" stroke="#000" stroke-width="0.9">Side opening</text>
<text x="1070.9" y="1474.6" font-size="25.1" textLength="285.8" lengthAdjust="spacingAndGlyphs" stroke="#000" stroke-width="0.5">freedom of entry and exit</text>
<text x="1245.1" y="1043" font-size="36.6" textLength="177" lengthAdjust="spacingAndGlyphs" stroke="#000" stroke-width="0.9">Top handle</text>
<text x="1263.3" y="1076.3" font-size="24.5" textLength="141.5" lengthAdjust="spacingAndGlyphs" stroke="#000" stroke-width="0.5">Grab and Go</text>
</g>
</svg>
</body></html>
